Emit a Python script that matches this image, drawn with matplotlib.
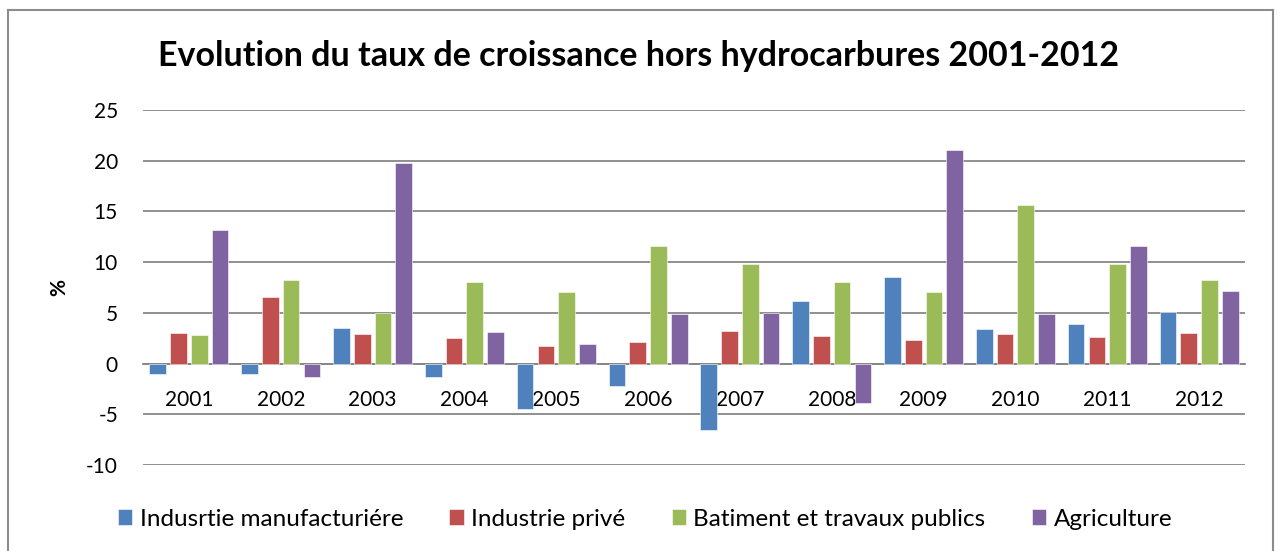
import matplotlib
matplotlib.use("Agg")
import matplotlib.pyplot as plt
import numpy as np
from matplotlib.lines import Line2D

plt.rcParams['font.family'] = ['Lato', 'DejaVu Sans']

years = ["2001", "2002", "2003", "2004", "2005", "2006", "2007", "2008", "2009", "2010", "2011", "2012"]
series_names = ["Indusrtie manufacturiére", "Industrie privé", "Batiment et travaux publics", "Agriculture"]
manufacturiere = [-1.0, -1.0, 3.5, -1.3, -4.5, -2.2, -6.5, 6.2, 8.5, 3.4, 3.9, 5.1]
industrie_privee = [3.0, 6.6, 2.9, 2.5, 1.7, 2.1, 3.2, 2.7, 2.3, 2.9, 2.6, 3.0]
batiment = [2.8, 8.2, 5.0, 8.0, 7.1, 11.6, 9.8, 8.0, 7.1, 15.6, 9.8, 8.2]
agriculture = [13.2, -1.3, 19.8, 3.1, 1.9, 4.9, 5.0, -3.85, 21.1, 4.9, 11.6, 7.2]
colors = ["#4F81BD", "#C0504D", "#9BBB59", "#8064A2"]
yticks = [-10, -5, 0, 5, 10, 15, 20, 25]

W, H = 1278, 551
fig = plt.figure(figsize=(W / 100, H / 100), dpi=100)
ax = fig.add_axes([143 / W, 1 - 465 / H, (1245 - 143) / W, (465 - 110) / H])

x = np.arange(len(years))
pitch = 0.226
width = 0.182
data = [manufacturiere, industrie_privee, batiment, agriculture]
for i, (vals, name, c) in enumerate(zip(data, series_names, colors)):
    ax.bar(x + (i - 1.5) * pitch, vals, width, color=c, label=name,
           edgecolor='white', linewidth=0.4, zorder=3)

ax.set_xlim(-0.5, len(years) - 0.5)
ax.set_ylim(-10, 25)
ax.set_yticks(yticks)
ax.set_yticklabels([str(v) for v in yticks], fontsize=15)
ax.yaxis.grid(True, color='#878787', linewidth=1.3, zorder=0)
ax.set_axisbelow(True)
for s in ['left', 'right', 'top']:
    ax.spines[s].set_visible(False)
ax.spines['bottom'].set_position(('data', 0))
ax.spines['bottom'].set_color('#878787')
ax.spines['bottom'].set_linewidth(1.3)
ax.set_xticks(x)
ax.set_xticklabels(years, fontsize=15)
ax.tick_params(axis='x', length=0, pad=19)
ax.tick_params(axis='y', length=0, pad=18)
ax.set_ylabel('%', fontsize=15, fontweight='bold')
ax.yaxis.set_label_coords(-74 / 1102, 0.5)

fig.text(0.5, 1 - 56 / H, "Evolution du taux de croissance hors hydrocarbures 2001-2012",
         ha='center', va='center', fontsize=24.5, fontweight='bold')

fig.legend(loc='center', bbox_to_anchor=(645 / W, 1 - 519 / H), ncol=4, frameon=False,
           fontsize=17.5, handlelength=0.6, handleheight=0.6, handletextpad=0.3,
           columnspacing=1.9)

bx0, bx1, by0 = 8 / W, 1273 / W, 1 - 10 / H
for xs, ys in [([bx0, bx0], [0, by0]), ([bx0, bx1], [by0, by0]), ([bx1, bx1], [by0, 0])]:
    fig.add_artist(Line2D(xs, ys, transform=fig.transFigure, color='#8C8C8C', linewidth=1.5))

fig.savefig("out.png", dpi=100)
